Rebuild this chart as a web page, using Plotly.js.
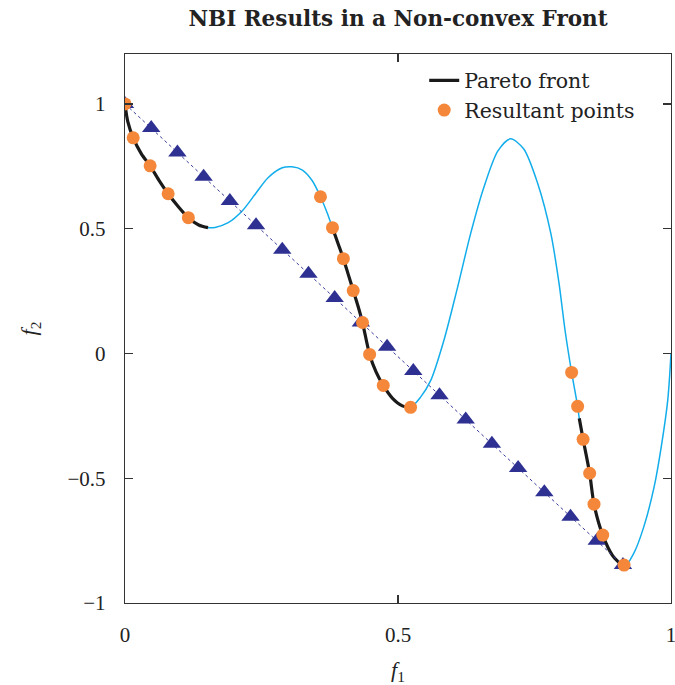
<!DOCTYPE html>
<html>
<head>
<meta charset="utf-8">
<script src="https://cdn.plot.ly/plotly-3.0.1.min.js"></script>
<style>html,body{margin:0;padding:0;background:#fff;}#chart{width:675px;height:685px;}</style>
</head>
<body>
<div id="chart"></div>
<script>
// Full (light blue) curve
const curveF1 = [0.000,0.005,0.015,0.030,0.046,0.062,0.079,0.097,0.116,0.135,0.152,0.165,0.189,0.215,0.239,0.262,0.288,0.306,0.325,0.343,0.358,0.370,0.380,0.390,0.400,0.409,0.418,0.427,0.435,0.448,0.460,0.473,0.490,0.508,0.523,0.541,0.560,0.584,0.609,0.633,0.657,0.683,0.706,0.730,0.756,0.780,0.795,0.806,0.818,0.829,0.832,0.839,0.851,0.859,0.875,0.893,0.914,0.932,0.950,0.969,0.982,0.994,1.000];
const curveF2 = [1.000,0.930,0.864,0.800,0.752,0.695,0.640,0.590,0.544,0.515,0.504,0.505,0.524,0.572,0.640,0.704,0.744,0.748,0.735,0.692,0.628,0.565,0.504,0.442,0.380,0.316,0.252,0.188,0.124,-0.004,-0.075,-0.128,-0.180,-0.210,-0.216,-0.176,-0.108,0.052,0.264,0.480,0.664,0.812,0.860,0.820,0.680,0.480,0.280,0.092,-0.076,-0.212,-0.260,-0.344,-0.480,-0.604,-0.728,-0.810,-0.856,-0.800,-0.696,-0.536,-0.376,-0.188,0.000];

// Pareto front segments (black)
const pareto1F1 = [0.000,0.005,0.015,0.030,0.046,0.062,0.079,0.097,0.116,0.135,0.152];
const pareto1F2 = [1.000,0.930,0.864,0.800,0.752,0.695,0.640,0.590,0.544,0.515,0.504];
const pareto2F1 = [0.380,0.390,0.400,0.409,0.418,0.427,0.435,0.448,0.460,0.473,0.490,0.508,0.523];
const pareto2F2 = [0.504,0.442,0.380,0.316,0.252,0.188,0.124,-0.004,-0.075,-0.128,-0.180,-0.210,-0.216];
const pareto3F1 = [0.832,0.839,0.851,0.859,0.875,0.893,0.914];
const pareto3F2 = [-0.260,-0.344,-0.480,-0.604,-0.728,-0.810,-0.856];

// Triangles on the utopia line
const triF1 = [0.000,0.048,0.096,0.144,0.192,0.240,0.288,0.336,0.384,0.432,0.480,0.528,0.576,0.624,0.672,0.720,0.768,0.816,0.864,0.912];
const triF2 = [1.000,0.903,0.805,0.708,0.611,0.514,0.416,0.319,0.222,0.124,0.027,-0.070,-0.167,-0.265,-0.362,-0.459,-0.556,-0.654,-0.751,-0.848];

// Resultant points (orange)
const resF1 = [0.000,0.015,0.046,0.079,0.116,0.358,0.380,0.400,0.418,0.435,0.448,0.473,0.523,0.818,0.829,0.839,0.851,0.859,0.875,0.914];
const resF2 = [1.000,0.864,0.752,0.640,0.544,0.628,0.504,0.380,0.252,0.124,-0.004,-0.128,-0.216,-0.076,-0.212,-0.344,-0.480,-0.604,-0.728,-0.848];

const xTicks = [0, 0.5, 1];
const xTickText = ['0','0.5','1'];
const yTicks = [-1,-0.5,0,0.5,1];
const yTickText = ['\u22121','\u22120.5','0','0.5','1'];

const FONT = 'Liberation Serif, DejaVu Serif, serif';
const WIDE = 'DejaVu Serif, Liberation Serif, serif';
const black = '#1a1a1a';

const traces = [
  {x: curveF1, y: curveF2, mode:'lines', line:{color:'#12ADEB', width:1.5, shape:'spline', smoothing:0.8}, showlegend:false, hoverinfo:'skip'},
  {x: pareto1F1, y: pareto1F2, mode:'lines', name:'Pareto front', legendgroup:'p', line:{color:black, width:3.2, shape:'spline', smoothing:0.8}, showlegend:true},
  {x: pareto2F1, y: pareto2F2, mode:'lines', legendgroup:'p', line:{color:black, width:3.2, shape:'spline', smoothing:0.8}, showlegend:false},
  {x: pareto3F1, y: pareto3F2, mode:'lines', legendgroup:'p', line:{color:black, width:3.2, shape:'spline', smoothing:0.8}, showlegend:false},
  {x: triF1, y: triF2, mode:'lines+markers', line:{color:'#3a3d9a', width:1, dash:'dot'}, marker:{symbol:'triangle-up', size:16, color:'#2E3192'}, showlegend:false},
  {x: resF1, y: resF2, mode:'markers', name:'Resultant points', marker:{symbol:'circle', size:13, color:'#F4873A'}, showlegend:true}
];

const axisCommon = {
  showline:true, mirror:'allticks', linecolor:'#333', linewidth:1.3,
  ticks:'inside', ticklen:8, tickcolor:'#333', tickwidth:1.2,
  showgrid:false, zeroline:false, ticklabeloverflow:'allow',
  tickfont:{family:FONT, size:21, color:'#222'}
};

const layout = {
  width:675, height:685,
  margin:{l:125, r:4, t:54, b:82},
  paper_bgcolor:'#fff', plot_bgcolor:'#fff',
  title:{text:'<b>NBI Results in a Non-convex Front</b>', font:{family:WIDE, size:21.5, color:'#222'}, x:0.5, xref:'paper', y:0.973, yanchor:'middle'},
  xaxis: Object.assign({}, axisCommon, {range:[0,1], tickvals:xTicks, ticktext:xTickText, ticklabelstandoff:12,
    title:{text:'<i>f</i><sub>1</sub>', font:{family:FONT, size:22, color:'#222'}, standoff:18}}),
  yaxis: Object.assign({}, axisCommon, {range:[-1,1.2], tickvals:yTicks, ticktext:yTickText, ticklabelstandoff:14,
    title:{text:'<i>f</i><sub>2</sub>', font:{family:FONT, size:22, color:'#222'}, standoff:24}}),
  legend:{x:0.548, y:0.988, xanchor:'left', yanchor:'top', bgcolor:'rgba(255,255,255,0)', font:{family:WIDE, size:20.5, color:'#222'}, tracegroupgap:0},
  showlegend:true
};

Plotly.newPlot('chart', traces, layout, {displayModeBar:false, staticPlot:true});
</script>
</body>
</html>
